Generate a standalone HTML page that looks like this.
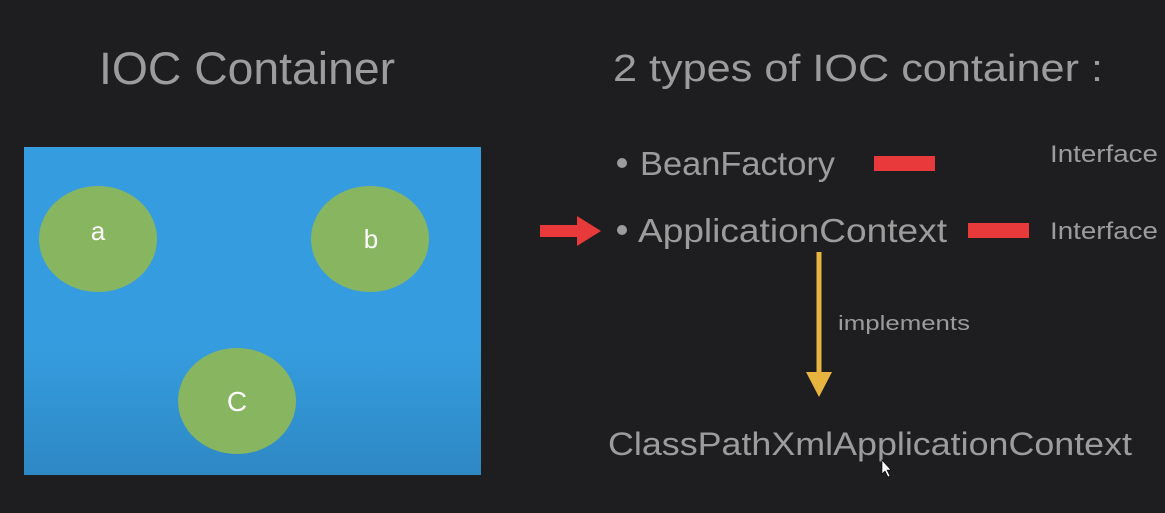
<!DOCTYPE html>
<html><head><meta charset="utf-8"><style>
html,body{margin:0;padding:0;background:#1e1e20;}
svg{display:block}
text{font-family:"Liberation Sans",sans-serif;}
</style></head><body>
<svg width="1165" height="513" viewBox="0 0 1165 513" xmlns="http://www.w3.org/2000/svg">
<defs>
<linearGradient id="bg" x1="0" y1="0" x2="0" y2="1">
<stop offset="0" stop-color="#359ddf"/><stop offset="0.6" stop-color="#359ddf"/><stop offset="1" stop-color="#2e88c4"/>
</linearGradient>
</defs>
<rect width="1165" height="513" fill="#1e1e20"/>
<text x="99" y="84" font-size="45" fill="#9c9c9c" textLength="296" lengthAdjust="spacingAndGlyphs">IOC Container</text>
<rect x="24" y="147" width="457" height="328" fill="url(#bg)"/>
<ellipse cx="98" cy="239" rx="59" ry="53" fill="#88b560"/>
<ellipse cx="370" cy="239" rx="59" ry="53" fill="#88b560"/>
<ellipse cx="237" cy="401" rx="59" ry="53" fill="#88b560"/>
<text x="98" y="240" font-size="26" fill="#fff" text-anchor="middle">a</text>
<text x="371" y="248" font-size="26" fill="#fff" text-anchor="middle">b</text>
<text x="237" y="411" font-size="28" fill="#fff" text-anchor="middle">C</text>

<text x="613" y="81" font-size="38" fill="#9c9c9c" textLength="490" lengthAdjust="spacingAndGlyphs">2 types of IOC container :</text>
<circle cx="622" cy="163" r="5" fill="#9c9c9c"/>
<text x="640" y="175" font-size="33" fill="#9c9c9c" textLength="195" lengthAdjust="spacingAndGlyphs">BeanFactory</text>
<rect x="874" y="156" width="61" height="15" fill="#e83a3a"/>
<text x="1050" y="162" font-size="24" fill="#9c9c9c" textLength="108" lengthAdjust="spacingAndGlyphs">Interface</text>

<polygon points="540,225 577,225 577,216 601,231 577,246 577,237 540,237" fill="#e83a3a"/>
<circle cx="622" cy="230" r="5" fill="#9c9c9c"/>
<text x="638" y="242" font-size="33" fill="#9c9c9c" textLength="309" lengthAdjust="spacingAndGlyphs">ApplicationContext</text>
<rect x="968" y="223" width="61" height="15" fill="#e83a3a"/>
<text x="1050" y="239" font-size="24" fill="#9c9c9c" textLength="108" lengthAdjust="spacingAndGlyphs">Interface</text>

<line x1="819" y1="252" x2="819" y2="375" stroke="#e8b440" stroke-width="5"/>
<polygon points="806,372 832,372 819,397" fill="#e8b440"/>
<text x="838" y="330" font-size="20" fill="#9c9c9c" textLength="132" lengthAdjust="spacingAndGlyphs">implements</text>

<text x="608" y="455" font-size="32" fill="#9c9c9c" textLength="524" lengthAdjust="spacingAndGlyphs">ClassPathXmlApplicationContext</text>
<polygon points="882,460 882,474 885,471 888,477 890,476 887,470 891,470" fill="#fff" stroke="#000" stroke-width="0.6"/>
</svg>
</body></html>
